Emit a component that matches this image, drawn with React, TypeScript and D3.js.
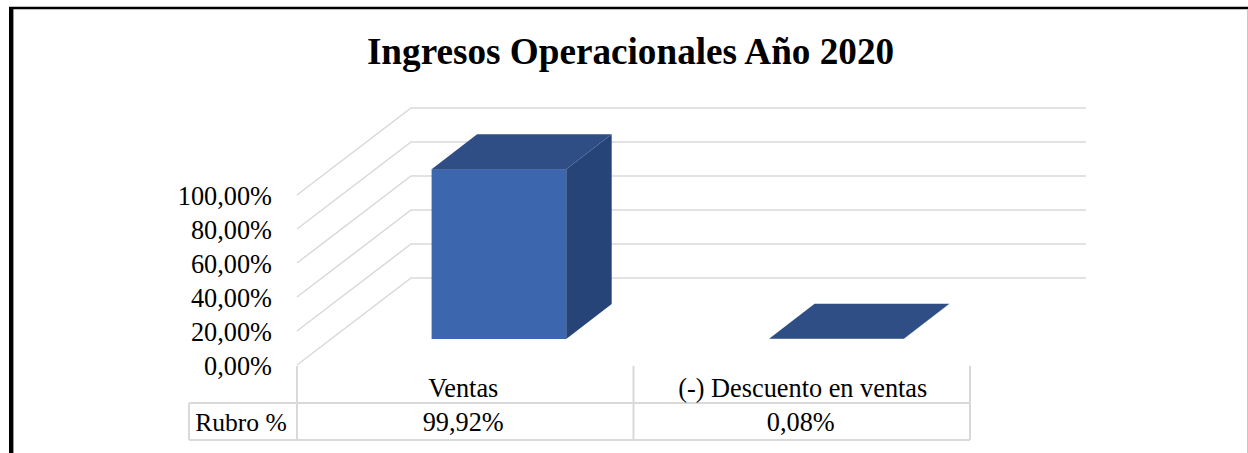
import React from "react";
import * as d3 from "d3";

const categories = ["Ventas", "(-) Descuento en ventas"];
const values = [99.92, 0.08];
const rowLabel = "Rubro %";
const valueLabels = ["99,92%", "0,08%"];
const ticks = [0, 20, 40, 60, 80, 100];
const tickLabels = ["0,00%", "20,00%", "40,00%", "60,00%", "80,00%", "100,00%"];
const title = "Ingresos Operacionales Año 2020";

const FONT = "'Liberation Serif', 'Times New Roman', serif";
const GRID = "#d9d9d9";

export default function App() {
  const y = d3.scaleLinear().domain([0, 100]).range([365, 195]);
  const x = d3.scaleBand().domain(categories).range([297, 970]);
  const h = (v: number) => y(0) - y(v);
  const depth = { dx: 114, dy: -87 };
  const barDepth = { dx: 45.5, dy: -35 };
  const x0 = x.range()[0];
  const tableLeft = 189;
  const floorRight = 1086;
  const barBase = 339;
  const bw = x.bandwidth() * 0.4;

  return (
    <svg
      width={1248}
      height={453}
      style={{ position: "absolute", left: 0, top: 0, background: "#fff" }}
      fontFamily={FONT}
    >
      <line x1={9} x2={1248} y1={8} y2={8} stroke="#000" strokeWidth={2.4} />
      <line x1={11.2} x2={11.2} y1={7} y2={453} stroke="#000" strokeWidth={4.4} />
      <line x1={1247.5} x2={1247.5} y1={9} y2={453} stroke="#c8c8c8" strokeWidth={1} />

      <text x={630.5} y={64} textAnchor="middle" fontSize={37.2} fontWeight="bold" fill="#000">
        {title}
      </text>

      {ticks.map((t, i) => (
        <g key={t}>
          <path
            d={`M${x0},${y(t)}L${x0 + depth.dx},${y(t) + depth.dy}L${floorRight},${y(t) + depth.dy}`}
            fill="none"
            stroke={GRID}
            strokeWidth={1.5}
          />
          <text x={272} y={y(t) + 10} textAnchor="end" fontSize={26.3} fill="#000">
            {tickLabels[i]}
          </text>
        </g>
      ))}

      {categories.map((c, i) => {
        const bx = x(c)! + x.bandwidth() * 0.4 + i;
        const top = barBase - h(values[i]);
        const d = barDepth;
        return (
          <g key={c}>
            <path
              d={`M${bx + bw},${barBase}L${bx + bw + d.dx},${barBase + d.dy}L${bx + bw + d.dx},${top + d.dy}L${bx + bw},${top}Z`}
              fill="#264478"
            />
            <rect x={bx} y={top} width={bw} height={h(values[i])} fill="#3c66ae" />
            <path
              d={`M${bx},${top}L${bx + d.dx},${top + d.dy}L${bx + bw + d.dx},${top + d.dy}L${bx + bw},${top}Z`}
              fill="#2e4e85"
            />
          </g>
        );
      })}

      <g stroke={GRID} strokeWidth={2} fill="none">
        <line x1={tableLeft} x2={970} y1={403} y2={403} />
        <line x1={tableLeft} x2={970} y1={440} y2={440} />
        <line x1={tableLeft} x2={tableLeft} y1={403} y2={440} />
        {x.domain().map((c) => (
          <line key={c} x1={x(c)} x2={x(c)} y1={366} y2={440} />
        ))}
        <line x1={970} x2={970} y1={366} y2={440} />
      </g>
      <text x={241} y={431} textAnchor="middle" fontSize={25.6} fill="#000">
        {rowLabel}
      </text>
      {categories.map((c, i) => (
        <g key={c} textAnchor="middle" fontSize={26.3} fill="#000">
          <text x={x(c)! + x.bandwidth() / 2 + (i === 0 ? -2 : 1)} y={397}>{c}</text>
          <text x={x(c)! + x.bandwidth() / 2 - (i === 0 ? 2 : 1)} y={431}>{valueLabels[i]}</text>
        </g>
      ))}
    </svg>
  );
}
